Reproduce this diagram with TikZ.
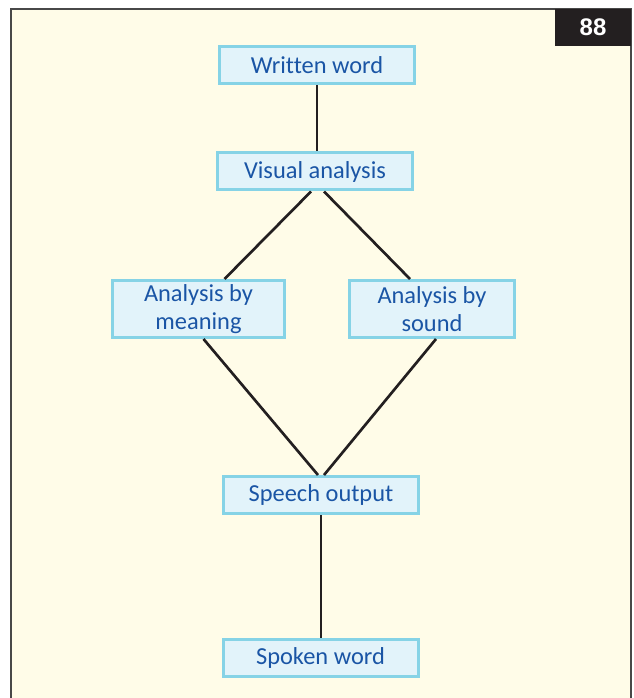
\documentclass[tikz,border=0pt]{standalone}
\usepackage{fontspec}
\setmainfont[Ligatures=NoCommon]{Carlito}
\newfontfamily\tabfont{Liberation Sans}
\usepackage{tikz}
\usetikzlibrary{positioning}
\usepackage{xcolor}
\definecolor{cPage}{RGB}{255,252,232}
\definecolor{cFrame}{RGB}{72,72,72}
\definecolor{cBoxFill}{RGB}{226,243,250}
\definecolor{cBoxEdge}{RGB}{134,211,230}
\definecolor{cText}{RGB}{26,85,165}
\definecolor{cLine}{RGB}{35,31,32}
\tikzset{
  stagebox/.style={rectangle, draw=cBoxEdge, fill=cBoxFill, line width=2.25pt,
                   align=center, text=cText, inner sep=0pt,
                   font=\fontsize{18.3}{21}\selectfont},
  widebox/.style={stagebox, minimum width=146.25pt, minimum height=27.75pt},
  tallbox/.style={stagebox, minimum height=42.75pt},
  tabbox/.style={rectangle, fill=cLine, text=white, inner sep=0pt,
                 minimum width=57pt, minimum height=28pt,
                 font=\tabfont\bfseries\fontsize{18}{20}\selectfont},
  link/.style={draw=cLine, line width=2pt}
}

\begin{document}
\begin{tikzpicture}[x=0.75pt, y=-0.75pt]
  \useasboundingbox (0,0) rectangle (633,698);
  % page frame, runs off the bottom
  \draw[fill=cPage, draw=cFrame, line width=1.8pt] (11,9) rectangle (631,715);
  \node[tabbox] (tab) at (593,27.5) {88};

  \node[widebox] (written) at (317,65) {Written word};
  \node[widebox] (visual) at (315,171.5) {Visual analysis};
  \node[tallbox, minimum width=128.75pt] (meaning) at (198.5,309) {Analysis by\\meaning};
  \node[tallbox, minimum width=123.75pt] (sound) at (432,309) {Analysis by\\sound};
  \node[widebox] (speech) at (321,495) {Speech output};
  \node[widebox] (spoken) at (320.5,658) {Spoken word};

  \draw[link] (written.south) -- (written.south |- visual.north);
  \draw[link] ([xshift=-3pt]visual.south) -- ([xshift=19.5pt]meaning.north);
  \draw[link] ([xshift=6.75pt]visual.south) -- ([xshift=-16.5pt]sound.north);
  \draw[link] ([xshift=3.75pt]meaning.south) -- ([xshift=-2.25pt]speech.north);
  \draw[link] ([xshift=3pt]sound.south) -- ([xshift=2.25pt]speech.north);
  \draw[link] (speech.south) -- (speech.south |- spoken.north);
\end{tikzpicture}
\end{document}
